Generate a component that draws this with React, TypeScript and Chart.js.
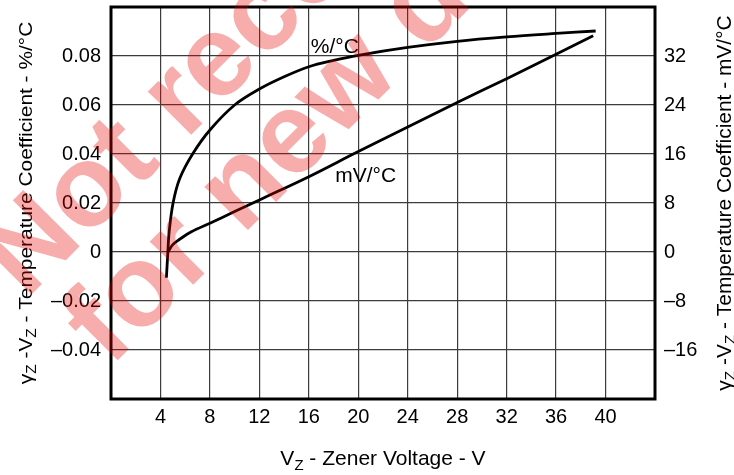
import React, { useEffect, useRef } from "react";
import { Chart, registerables } from "chart.js";

Chart.register(...registerables);

// %/°C curve (left axis)
const pctX = [4.48, 4.6, 4.7, 5.02, 5.56, 6.6, 8, 10, 12, 14, 16, 18, 20, 24, 28, 32, 36, 39.2];
const pctY = [-0.0105, 0, 0.008, 0.02, 0.03, 0.04, 0.0498, 0.06, 0.0665, 0.0715, 0.0756, 0.0782, 0.0803, 0.0835, 0.086, 0.0878, 0.0892, 0.0902];

// mV/°C curve (right axis)
const mvX = [4.6, 5.0, 5.5, 6.5, 8, 10, 12, 16, 20, 24, 28, 32, 36, 39];
const mvY = [0, 1.2, 2.0, 3.3, 4.7, 6.6, 8.5, 12.3, 16.4, 20.4, 24.4, 28.3, 32.3, 35.3];

const xTickValues = [4, 8, 12, 16, 20, 24, 28, 32, 36, 40];
const xTickLabels = ["4", "8", "12", "16", "20", "24", "28", "32", "36", "40"];
const leftTickValues = [-0.04, -0.02, 0, 0.02, 0.04, 0.06, 0.08];
const leftTickLabels = ["\u20130.04", "\u20130.02", "0", "0.02", "0.04", "0.06", "0.08"];
const rightTickValues = [-16, -8, 0, 8, 16, 24, 32];
const rightTickLabels = ["\u201316", "\u20138", "0", "8", "16", "24", "32"];

const curveLabels = ["%/\u00b0C", "mV/\u00b0C"];
const watermarkLines = ["Not recommended", "for new design"];

const FONT = "'Liberation Sans', Arial, sans-serif";

function labelFor(v: number, vals: number[], labels: string[]) {
  for (let i = 0; i < vals.length; i++) if (Math.abs(vals[i] - v) < 1e-6) return labels[i];
  return "";
}

type Seg = { t: string; sub?: boolean };

function drawRich(ctx: CanvasRenderingContext2D, segs: Seg[], cx: number, cy: number, rot: number, size: number, stretch = 1) {
  ctx.save();
  ctx.translate(cx, cy);
  ctx.rotate(rot);
  ctx.scale(stretch, 1);
  const main = `${size}px ${FONT}`;
  const sub = `${Math.round(size * 0.72)}px ${FONT}`;
  let w = 0;
  for (const s of segs) {
    ctx.font = s.sub ? sub : main;
    w += ctx.measureText(s.t).width;
  }
  let x = -w / 2;
  ctx.textAlign = "left";
  ctx.textBaseline = "alphabetic";
  ctx.fillStyle = "#000";
  for (const s of segs) {
    ctx.font = s.sub ? sub : main;
    ctx.fillText(s.t, x, s.sub ? size * 0.22 : 0);
    x += ctx.measureText(s.t).width;
  }
  ctx.restore();
}

const decorPlugin = {
  id: "decor",
  beforeDatasetsDraw(chart: any) {
    const { ctx, chartArea: a } = chart;
    ctx.save();
    ctx.strokeStyle = "#000";
    ctx.lineWidth = 3;
    ctx.strokeRect(a.left, a.top, a.right - a.left, a.bottom - a.top);
    ctx.restore();
  },
  afterDatasetsDraw(chart: any) {
    const { ctx } = chart;
    const xs = chart.scales.x;
    const ys = chart.scales.y;
    ctx.save();
    ctx.fillStyle = "#000";
    ctx.textAlign = "center";
    ctx.textBaseline = "alphabetic";
    ctx.font = `21px ${FONT}`;
    ctx.fillText(curveLabels[0], xs.getPixelForValue(18.1), ys.getPixelForValue(0.0814));
    ctx.fillText(curveLabels[1], xs.getPixelForValue(20.6), ys.getPixelForValue(0.0284));
    ctx.restore();
  },
  afterDraw(chart: any) {
    const { ctx, chartArea: a } = chart;
    const midY = (a.top + a.bottom) / 2;
    const midX = (a.left + a.right) / 2;
    const g: Seg = { t: "\u03b3" };
    drawRich(ctx, [g, { t: "Z", sub: true }, { t: " -V" }, { t: "Z", sub: true }, { t: " - Temperature Coefficient - %/\u00b0C" }], 32, midY, -Math.PI / 2, 19, 1.1);
    drawRich(ctx, [g, { t: "Z", sub: true }, { t: " -V" }, { t: "Z", sub: true }, { t: " - Temperature Coefficient - mV/\u00b0C" }], 730.5, midY, -Math.PI / 2, 20.5, 1.02);
    drawRich(ctx, [{ t: "V" }, { t: "Z", sub: true }, { t: " - Zener Voltage - V" }], midX, 465, 0, 21, 1);

    // watermark
    ctx.save();
    ctx.fillStyle = "rgba(232,0,0,0.32)";
    ctx.font = `bold 116px ${FONT}`;
    ctx.textAlign = "left";
    ctx.textBaseline = "alphabetic";
    const ang = -Math.PI / 4;
    const starts = [
      [26, 300],
      [110, 368],
    ];
    watermarkLines.forEach((line, i) => {
      ctx.save();
      ctx.translate(starts[i][0], starts[i][1]);
      ctx.rotate(ang);
      ctx.fillText(line, 0, 0);
      ctx.restore();
    });
    ctx.restore();
  },
};

export default function App() {
  const ref = useRef<HTMLCanvasElement>(null);
  useEffect(() => {
    if (!ref.current) return;
    const chart = new Chart(ref.current, {
      type: "line",
      data: {
        datasets: [
          {
            label: "%/°C",
            data: pctX.map((x, i) => ({ x, y: pctY[i] })),
            yAxisID: "y",
            borderColor: "#000",
            borderWidth: 2.8,
            pointRadius: 0,
            fill: false,
            tension: 0.35,
          },
          {
            label: "mV/°C",
            data: mvX.map((x, i) => ({ x, y: mvY[i] })),
            yAxisID: "y2",
            borderColor: "#000",
            borderWidth: 2.8,
            pointRadius: 0,
            fill: false,
            tension: 0.35,
          },
        ],
      },
      options: {
        animation: false,
        responsive: true,
        maintainAspectRatio: false,
        layout: { padding: { top: 7, left: 0, right: 0, bottom: 0 } },
        plugins: { legend: { display: false }, title: { display: false }, tooltip: { enabled: false } },
        scales: {
          x: {
            type: "linear",
            min: 0,
            max: 44,
            afterBuildTicks: (s: any) => {
              s.ticks = [0, ...xTickValues, 44].map((v) => ({ value: v }));
            },
            afterFit: (s: any) => {
              s.height = 76;
              s.paddingLeft = 0;
              s.paddingRight = 0;
            },
            ticks: {
              autoSkip: false,
              maxRotation: 0,
              padding: 6,
              color: "#000",
              font: { family: FONT, size: 20 },
              callback: (v: any) => labelFor(Number(v), xTickValues, xTickLabels),
            },
            grid: { color: "#3c3c3c", lineWidth: 1.2, drawTicks: false },
            border: { display: false },
          },
          y: {
            type: "linear",
            position: "left",
            min: -0.06,
            max: 0.1,
            afterBuildTicks: (s: any) => {
              s.ticks = [-0.06, ...leftTickValues, 0.1].map((v) => ({ value: v }));
            },
            afterFit: (s: any) => {
              s.width = 111;
              s.paddingTop = 0;
              s.paddingBottom = 0;
            },
            ticks: {
              autoSkip: false,
              padding: 10,
              color: "#000",
              font: { family: FONT, size: 20 },
              callback: (v: any) => labelFor(Number(v), leftTickValues, leftTickLabels),
            },
            grid: { color: "#3c3c3c", lineWidth: 1.2, drawTicks: false },
            border: { display: false },
          },
          y2: {
            type: "linear",
            position: "right",
            min: -24,
            max: 40,
            afterBuildTicks: (s: any) => {
              s.ticks = rightTickValues.map((v) => ({ value: v }));
            },
            afterFit: (s: any) => {
              s.width = 79;
              s.paddingTop = 0;
              s.paddingBottom = 0;
            },
            ticks: {
              autoSkip: false,
              padding: 9,
              color: "#000",
              font: { family: FONT, size: 20 },
              callback: (v: any) => labelFor(Number(v), rightTickValues, rightTickLabels),
            },
            grid: { display: false, drawTicks: false },
            border: { display: false },
          },
        },
      },
      plugins: [decorPlugin],
    } as any);
    return () => chart.destroy();
  }, []);
  return (
    <div style={{ position: "fixed", left: 0, top: 0, width: 734, height: 475, background: "#fff" }}>
      <canvas ref={ref} />
    </div>
  );
}
